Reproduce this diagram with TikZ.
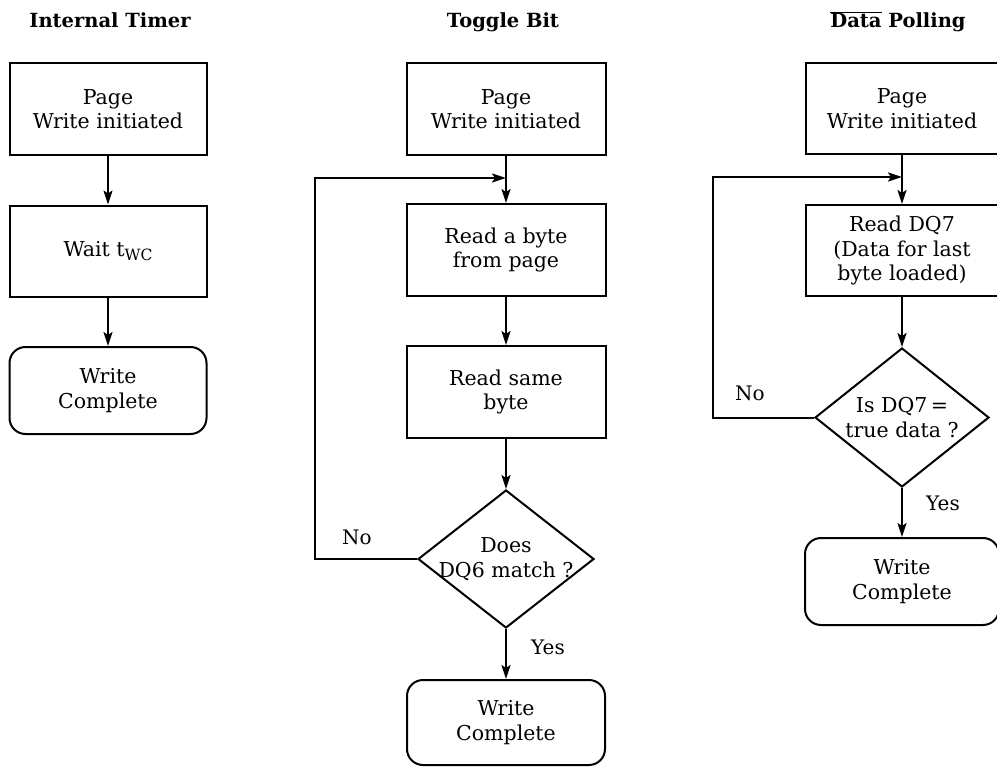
\documentclass[tikz,border=0pt]{standalone}
\usepackage{fontspec}
\setmainfont{DejaVu Serif}
\usetikzlibrary{shapes.geometric,arrows.meta}
\begin{document}
\begin{tikzpicture}[x=1pt,y=-1pt,
  every node/.style={font=\fontsize{20.5}{24.5}\selectfont, align=center},
  box/.style={draw, line width=2pt, rectangle, inner sep=0pt},
  endbox/.style={box, rounded corners=16pt},
  dia/.style={draw, line width=2pt, diamond, inner sep=0pt},
  ttl/.style={font=\fontsize{19.5}{22}\selectfont\bfseries, anchor=base},
  lbl/.style={font=\fontsize{20}{22}\selectfont},
  arr/.style={line width=2pt, -{Stealth[length=14pt,width=9pt,inset=3pt]}},
  ln/.style={line width=2pt}
]
\useasboundingbox (0,0) rectangle (997,768);

% Titles
\node[ttl] (t1) at (110,28) {Internal Timer};
\node[ttl] (t2) at (503,28) {Toggle Bit};
\node[ttl] (t3) at (898,28) {$\overline{\mbox{Data}}$ Polling};

% Column 1
\node[box, minimum width=197pt, minimum height=92pt] (p1) at (108,109) {Page\\Write initiated};
\node[box, minimum width=197pt, minimum height=91pt] (w1) at (108,251) {Wait t\raisebox{-0.35ex}{\fontsize{15.5}{15}\selectfont WC}};
\node[endbox, minimum width=197pt, minimum height=87pt] (c1) at (108,390.5) {Write\\Complete};
\draw[arr] (p1.south) -- (w1.north);
\draw[arr] (w1.south) -- (c1.north);

% Column 2
\node[box, minimum width=199pt, minimum height=92pt] (p2) at (506,109) {Page\\Write initiated};
\node[box, minimum width=199pt, minimum height=92pt] (r2) at (506,250) {Read a byte\\from page};
\node[box, minimum width=199pt, minimum height=92pt] (s2) at (506,392) {Read same\\byte};
\node[dia, minimum width=176pt, minimum height=138pt] (d2) at (506,559) {};
\node (d2t) at (506,559) {Does\\DQ6 match ?};
\node[endbox, minimum width=198pt, minimum height=85pt] (c2) at (506,722.5) {Write\\Complete};
\coordinate (k2) at (315,178);
\coordinate (j2) at (506,178);
\draw[arr] (p2.south) -- (r2.north);
\draw[arr] (r2.south) -- (s2.north);
\draw[arr] (s2.south) -- (d2.north);
\draw[arr] (d2.south) -- (c2.north);
\draw[arr] (d2.west) -| (k2) -- (j2);
\node[lbl] (no2) at (357,537) {No};
\node[lbl] (yes2) at (548,647) {Yes};

% Column 3
\node[box, minimum width=192pt, minimum height=91pt] (p3) at (902,108.5) {Page\\Write initiated};
\node[box, minimum width=192pt, minimum height=91pt] (r3) at (902,250.5) {Read DQ7\\(Data for last\\byte loaded)};
\node[dia, minimum width=174pt, minimum height=139pt] (d3) at (902,417.5) {};
\node (d3t) at (902,417.5) {Is DQ7\,=\\true data ?};
\node[endbox, minimum width=194pt, minimum height=87pt] (c3) at (902,581.5) {Write\\Complete};
\coordinate (k3) at (713,177);
\coordinate (j3) at (902,177);
\draw[arr] (p3.south) -- (r3.north);
\draw[arr] (r3.south) -- (d3.north);
\draw[arr] (d3.south) -- (c3.north);
\draw[arr] (d3.west) -| (k3) -- (j3);
\node[lbl] (no3) at (750,393) {No};
\node[lbl] (yes3) at (943,503) {Yes};
\end{tikzpicture}
\end{document}
